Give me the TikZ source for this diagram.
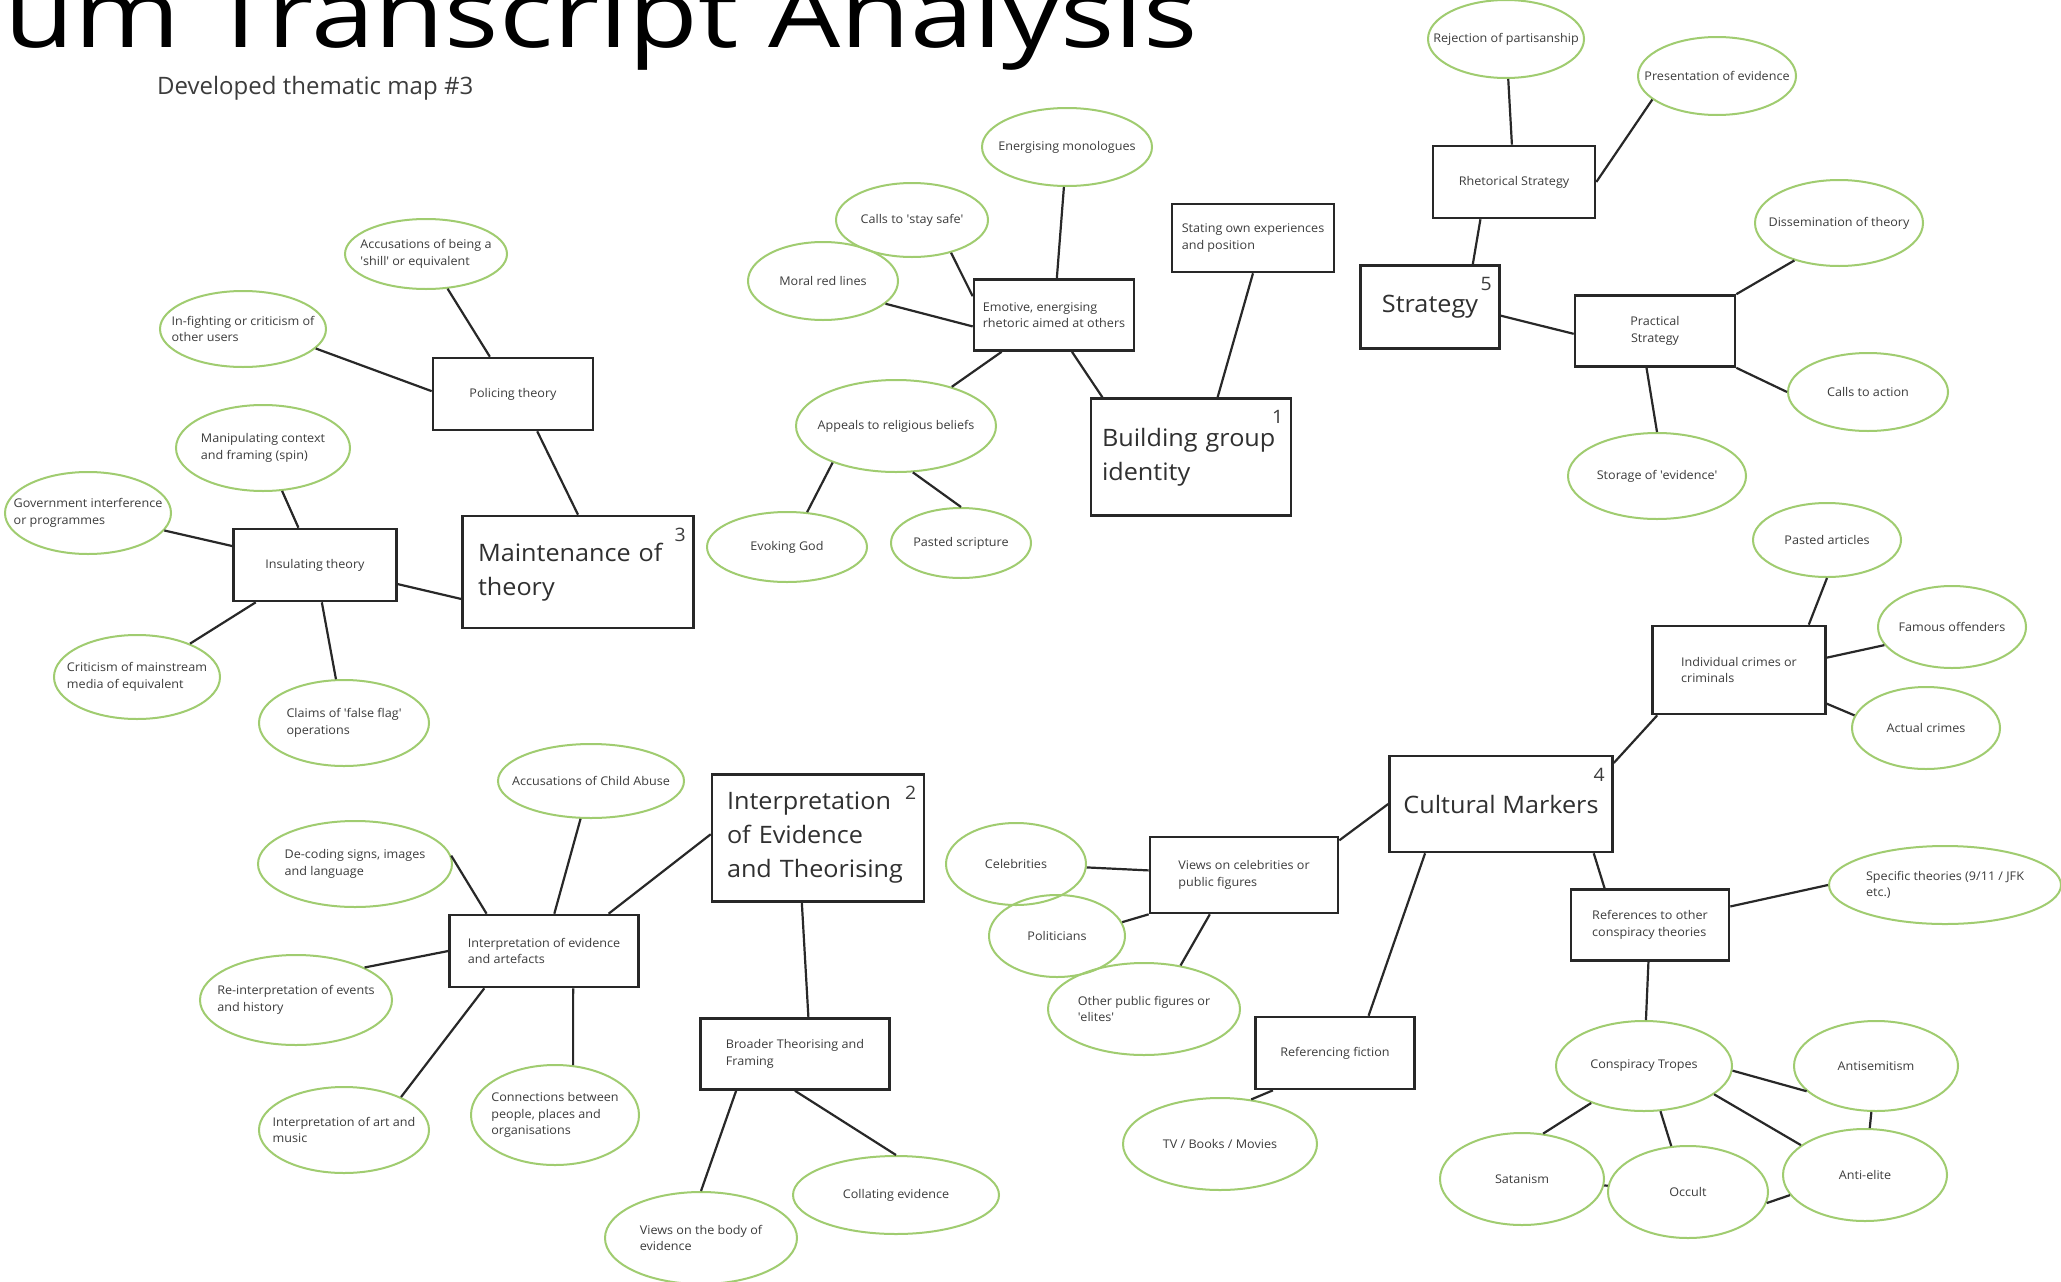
\documentclass[tikz,border=0pt]{standalone}
\usepackage{fontspec}
\setmainfont{Open Sans}[FakeStretch=1.05]
\newfontfamily\titlefont{Open Sans}[FakeStretch=1.2]
\newfontfamily\subfont{Open Sans}
\usetikzlibrary{shapes.geometric}

\definecolor{leaf}{RGB}{160,204,112}
\definecolor{ink}{RGB}{60,60,60}
\definecolor{edge}{RGB}{40,40,40}

\newcommand\smalltxt{\fontsize{12}{16.5}\selectfont}
\newcommand\bigtxt{\fontsize{24}{34}\selectfont}
\newcommand\numtxt{\fontsize{18.5}{18.5}\selectfont}

\tikzset{
  idea/.style={ellipse, draw=leaf, line width=2pt, inner xsep=-40pt, inner ysep=-12pt, align=left, font=\smalltxt, text=ink},
  topic/.style={rectangle, draw=edge, line width=2.6pt, inner sep=0pt, align=left, font=\smalltxt, text=ink},
  theme/.style={topic, font=\bigtxt, text=ink!80!black,
    label={[anchor=north east, font=\numtxt, text=ink, inner xsep=9pt, inner ysep=13pt]north east:#1}},
  wh/.style 2 args={minimum width=#1pt, minimum height=#2pt},
  link/.style={draw=edge, line width=2.2pt},
}

\begin{document}
\begin{tikzpicture}[x=1pt, y=-1pt]
	\useasboundingbox (0,0) rectangle (2061,1282);
	\fill[white] (0,0) rectangle (2061,1282);
	\clip (0,0) rectangle (2061,1282);

	\node(title) [anchor=base west, inner sep=0pt, font=\titlefont\fontsize{95}{95}\selectfont] at (4,47) {um Transcript Analysis};
	\node(subtitle) [anchor=base west, inner sep=0pt, text=ink, font=\subfont\fontsize{24}{24}\selectfont] at (157,94) {Developed thematic map \#3};

	% 3 maintenance of theory
	\node(maint) [theme=3, wh={231}{112}, text width=200pt] at (578,572) {Maintenance of\\theory};
	\node(police) [topic, wh={160}{72}] at (513,394) {Policing theory};
	\node(insul) [topic, wh={163}{72}] at (315,565) {Insulating theory};
	\node(shill) [idea, wh={162}{70}] at (426,254) {Accusations of being a\\\textquotesingle shill\textquotesingle{} or equivalent};
	\node(infight) [idea, wh={166}{76}] at (243,329) {In-fighting or criticism of\\other users};
	\node(manip) [idea, wh={174}{86}] at (263,448) {Manipulating context\\and framing (spin)};
	\node(govt) [idea, wh={166}{82}] at (88,513) {Government interference\\or programmes};
	\node(critic) [idea, wh={166}{84}] at (137,677) {Criticism of mainstream\\media of equivalent};
	\node(falseflag) [idea, wh={170}{86}] at (344,723) {Claims of \textquotesingle false flag\textquotesingle\\operations};

	% 1 building group identity
	\node(build) [theme=1, wh={200}{117}, text width=178pt] at (1191,457) {Building group\\identity};
	\node(emotive) [topic, wh={160}{71}] at (1054,315) {Emotive, energising\\rhetoric aimed at others};
	\node(stating) [topic, wh={162}{68}] at (1253,238) {Stating own experiences\\and position};
	\node(energ) [idea, wh={170}{78}] at (1067,147) {Energising monologues};
	\node(staysafe) [idea, wh={152}{74}] at (912,220) {Calls to \textquotesingle stay safe\textquotesingle};
	\node(moral) [idea, wh={150}{78}] at (823,281) {Moral red lines};
	\node(appeals) [idea, wh={200}{92}] at (896,426) {Appeals to religious beliefs};
	\node(evoking) [idea, wh={160}{70}] at (787,547) {Evoking God};
	\node(scripture) [idea, wh={140}{70}] at (961,543) {Pasted scripture};

	% 5 strategy
	\node(strat) [theme=5, wh={139}{83}] at (1430,307) {Strategy};
	\node(rhet) [topic, wh={162}{72}] at (1514,182) {Rhetorical Strategy};
	\node(pract) [topic, wh={160}{71}, align=center] at (1655,331) {Practical\\Strategy};
	\node(reject) [idea, wh={156}{78}] at (1506,39) {Rejection of partisanship};
	\node(present) [idea, wh={158}{78}] at (1717,76) {Presentation of evidence};
	\node(dissem) [idea, wh={168}{86}] at (1839,223) {Dissemination of theory};
	\node(callact) [idea, wh={160}{78}] at (1868,392) {Calls to action};
	\node(storage) [idea, wh={178}{86}] at (1657,476) {Storage of \textquotesingle evidence\textquotesingle};

	% 4 cultural markers
	\node(cult) [theme=4, wh={223}{96}] at (1501,804) {Cultural Markers};
	\node(indiv) [topic, wh={173}{88}] at (1739,670) {Individual crimes or\\criminals};
	\node(views) [topic, wh={188}{76}] at (1244,875) {Views on celebrities or\\public figures};
	\node(refs) [topic, wh={158}{71}] at (1650,925) {References to other\\conspiracy theories};
	\node(fict) [topic, wh={159}{72}] at (1335,1053) {Referencing fiction};
	\node(pastart) [idea, wh={148}{74}] at (1827,540) {Pasted articles};
	\node(famous) [idea, wh={148}{82}] at (1952,627) {Famous offenders};
	\node(actual) [idea, wh={148}{82}] at (1926,728) {Actual crimes};
	\node(specific) [idea, wh={232}{78}] at (1945,885) {Specific theories (9/11 / JFK\\etc.)};
	\node(celeb) [idea, wh={140}{82}] at (1016,864) {Celebrities};
	\node(politic) [idea, wh={136}{82}] at (1057,936) {Politicians};
	\node(otherpub) [idea, wh={192}{92}] at (1144,1009) {Other public figures or\\\textquotesingle elites\textquotesingle};
	\node(tvbooks) [idea, wh={194}{92}] at (1220,1144) {TV / Books / Movies};
	\node(tropes) [idea, wh={176}{90}] at (1644,1066) {Conspiracy Tropes};
	\node(antisem) [idea, wh={164}{90}] at (1876,1066) {Antisemitism};
	\node(satan) [idea, wh={164}{92}] at (1522,1179) {Satanism};
	\node(occult) [idea, wh={160}{92}] at (1688,1192) {Occult};
	\node(antielite) [idea, wh={164}{92}] at (1865,1175) {Anti-elite};

	% 2 interpretation of evidence
	\node(interp) [theme=2, wh={212}{127}, text width=182pt] at (818,838) {Interpretation\\of Evidence\\and Theorising};
	\node(artef) [topic, wh={189}{72}] at (544,951) {Interpretation of evidence\\and artefacts};
	\node(broad) [topic, wh={189}{71}] at (795,1054) {Broader Theorising and\\Framing};
	\node(childab) [idea, wh={186}{74}] at (591,781) {Accusations of Child Abuse};
	\node(decode) [idea, wh={194}{86}] at (355,864) {De-coding signs, images\\and language};
	\node(reinterp) [idea, wh={192}{90}] at (296,1000) {Re-interpretation of events\\and history};
	\node(artmusic) [idea, wh={170}{86}] at (344,1130) {Interpretation of art and\\music};
	\node(connect) [idea, wh={168}{100}] at (555,1115) {Connections between\\people, places and\\organisations};
	\node(viewsbody) [idea, wh={192}{92}] at (701,1238) {Views on the body of\\evidence};
	\node(collate) [idea, wh={206}{78}] at (896,1195) {Collating evidence};

	\draw[link] (police.-57) -- (maint.north);
	\draw[link] (police) -- (shill);
	\draw[link] (police.178) -- (infight.-15);
	\draw[link] (insul.-13) -- (maint.193);
	\draw[link] (insul) -- (manip);
	\draw[link] (insul) -- (govt);
	\draw[link] (insul) -- (critic);
	\draw[link] (insul) -- (falseflag);

	\draw[link] (emotive) -- (energ);
	\draw[link] (emotive.167) -- (staysafe.-40);
	\draw[link] (emotive.188) -- (moral.-20);
	\draw[link] (emotive) -- (appeals);
	\draw[link] (emotive.-64) -- (build.146);
	\draw[link] (stating.south) -- (build.66);
	\draw[link] (appeals.210) -- (evoking.60);
	\draw[link] (appeals.-70) -- (scripture.north);

	\draw[link] (rhet) -- (reject);
	\draw[link] (rhet.east) -- (present.200);
	\draw[link] (rhet.228) -- (strat.45);
	\draw[link] (strat.-7) -- (pract.182);
	\draw[link] (pract.north east) -- (dissem.220);
	\draw[link] (pract.south east) -- (callact.west);
	\draw[link] (pract.257) -- (storage.north);

	\draw[link] (cult.20) -- (indiv.209);
	\draw[link] (indiv.33) -- (pastart.south);
	\draw[link] (indiv.8) -- (famous.195);
	\draw[link] (indiv.-21) -- (actual.170);
	\draw[link] (views.20) -- (cult.180);
	\draw[link] (views) -- (celeb);
	\draw[link] (views.south west) -- (politic.12);
	\draw[link] (views.229) -- (otherpub.50);
	\draw[link] (cult.213) -- (fict.48);
	\draw[link] (fict.211) -- (tvbooks.55);
	\draw[link] (cult.-28) -- (refs.141);
	\draw[link] (refs.13) -- (specific.west);
	\draw[link] (refs) -- (tropes);
	\draw[link] (tropes.-3) -- (antisem.200);
	\draw[link] (tropes.215) -- (satan.65);
	\draw[link] (tropes.-70) -- (occult.110);
	\draw[link] (tropes.-22) -- (antielite.155);
	\draw[link] (antisem) -- (antielite);
	\draw[link] (satan) -- (occult);
	\draw[link] (occult.-8) -- (antielite.195);

	\draw[link] (artef.30) -- (interp.178);
	\draw[link] (artef) -- (childab);
	\draw[link] (artef.147) -- (decode.5);
	\draw[link] (artef.west) -- (reinterp.north east);
	\draw[link] (artef.212) -- (artmusic.30);
	\draw[link] (artef.-52) -- (connect.70);
	\draw[link] (interp.256) -- (broad.70);
	\draw[link] (broad.212) -- (viewsbody.north);
	\draw[link] (broad.south) -- (collate.north);
\end{tikzpicture}
\end{document}
